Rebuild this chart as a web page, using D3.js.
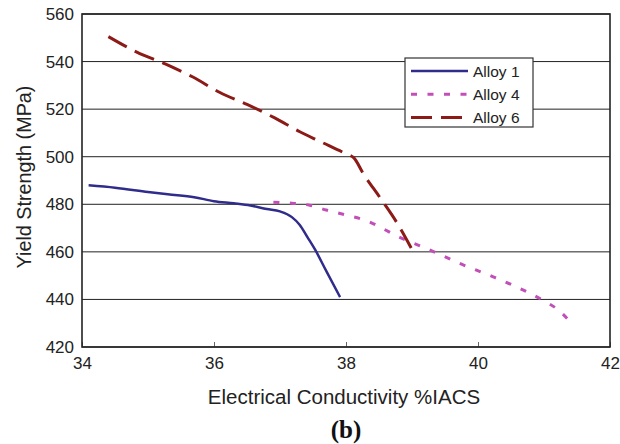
<!DOCTYPE html>
<html>
<head>
<meta charset="utf-8">
<script src="https://cdn.jsdelivr.net/npm/d3@7"></script>
<style>
  body { margin: 0; background: #fff; }
  svg { display: block; font-family: "Liberation Sans", Arial, sans-serif; }
</style>
</head>
<body>
<div id="chart"></div>
<script>
// values
const xTicks = [34, 36, 38, 40, 42];
const yTicks = [420, 440, 460, 480, 500, 520, 540, 560];

const alloy1 = [
  [34.1, 488], [34.5, 487], [35, 485.2], [35.3, 484.2], [35.7, 483], [36, 481.3],
  [36.3, 480.4], [36.55, 479.5], [36.8, 478], [37, 477], [37.18, 474.6],
  [37.3, 471.3], [37.42, 466], [37.53, 461], [37.7, 452], [37.91, 441]
];
const alloy4 = [
  [36.9, 480.9], [37.15, 480.5], [37.45, 479.6], [37.7, 477.6], [38, 475.5],
  [38.3, 473.2], [38.8, 466.3], [39.3, 460.4], [39.75, 454.8], [40.23, 449.5],
  [40.74, 443.2], [41, 439.4], [41.22, 435.5], [41.42, 429.9]
];
const alloy6 = [
  [34.4, 550.5], [34.83, 544], [35.26, 539], [35.68, 533.5], [36.09, 527],
  [36.5, 522], [36.92, 516.3], [37.3, 510.5], [37.6, 506.5], [38, 501.2],
  [38.12, 499.5], [38.26, 493], [38.52, 482.6], [38.77, 472.3], [39, 461]
];

const series = [
  { name: "Alloy 1", data: alloy1, color: "#302c8c", width: 2.5, dash: null },
  { name: "Alloy 4", data: alloy4, color: "#c24fb8", width: 3, dash: "6,10.5" },
  { name: "Alloy 6", data: alloy6, color: "#8c1a16", width: 3, dash: "21,9" }
];

const W = 620, H = 444;
const margin = { top: 14, right: 10, bottom: 97, left: 82 };
const width = W - margin.left - margin.right;
const height = H - margin.top - margin.bottom;

const svg = d3.select("#chart").append("svg")
  .attr("width", W)
  .attr("height", H);

const g = svg.append("g")
  .attr("transform", `translate(${margin.left},${margin.top})`);

const x = d3.scaleLinear().domain([34, 42]).range([0, width]);
const y = d3.scaleLinear().domain([420, 560]).range([height, 0]);

// horizontal grid
g.selectAll(".grid")
  .data(yTicks)
  .enter().append("line")
  .attr("x1", 0).attr("x2", width)
  .attr("y1", d => y(d)).attr("y2", d => y(d))
  .attr("stroke", "#222")
  .attr("stroke-width", 1);

// x axis with inward ticks
const xAxis = g.append("g")
  .attr("transform", `translate(0,${height})`)
  .call(d3.axisBottom(x).tickValues(xTicks).tickSizeInner(-5).tickSizeOuter(0).tickPadding(10));
xAxis.select(".domain").remove();
xAxis.selectAll("line").attr("stroke", "#666");
xAxis.selectAll("text").attr("font-size", 17).attr("fill", "#222")
  .attr("font-family", "Liberation Sans, Arial, sans-serif");

// y axis labels
const yAxis = g.append("g")
  .call(d3.axisLeft(y).tickValues(yTicks).tickSize(0).tickPadding(8));
yAxis.select(".domain").remove();
yAxis.selectAll("text").attr("font-size", 17).attr("fill", "#222")
  .attr("font-family", "Liberation Sans, Arial, sans-serif");

// frame
g.append("rect")
  .attr("width", width).attr("height", height)
  .attr("fill", "none")
  .attr("stroke", "#222")
  .attr("stroke-width", 1.6);

const line = d3.line()
  .x(d => x(d[0]))
  .y(d => y(d[1]))
  .curve(d3.curveMonotoneX);

series.forEach(s => {
  g.append("path")
    .datum(s.data)
    .attr("d", line)
    .attr("fill", "none")
    .attr("stroke", s.color)
    .attr("stroke-width", s.width)
    .attr("stroke-dasharray", s.dash);
});

// legend
const legend = svg.append("g").attr("transform", "translate(405,58)");
legend.append("rect")
  .attr("width", 128).attr("height", 69)
  .attr("fill", "#fff")
  .attr("stroke", "#333")
  .attr("stroke-width", 1.2);
series.forEach((s, i) => {
  const ly = 13 + i * 23.3;
  legend.append("line")
    .attr("x1", 6).attr("x2", 63)
    .attr("y1", ly).attr("y2", ly)
    .attr("stroke", s.color)
    .attr("stroke-width", s.width)
    .attr("stroke-dasharray", s.dash);
  legend.append("text")
    .attr("x", 68).attr("y", ly + 5.5)
    .attr("font-size", 15.5)
    .attr("fill", "#222")
    .text(s.name);
});

// axis titles
svg.append("text")
  .attr("x", 344)
  .attr("y", 404)
  .attr("text-anchor", "middle")
  .attr("font-size", 20.5)
  .attr("fill", "#222")
  .text("Electrical Conductivity %IACS");

svg.append("text")
  .attr("transform", "translate(31,177) rotate(-90)")
  .attr("text-anchor", "middle")
  .attr("font-size", 19.8)
  .attr("fill", "#222")
  .text("Yield Strength (MPa)");

svg.append("text")
  .attr("x", 346)
  .attr("y", 438)
  .attr("text-anchor", "middle")
  .attr("font-size", 25)
  .attr("font-weight", "bold")
  .attr("font-family", "Liberation Serif, Times New Roman, serif")
  .attr("fill", "#111")
  .text("(b)");
</script>
</body>
</html>
